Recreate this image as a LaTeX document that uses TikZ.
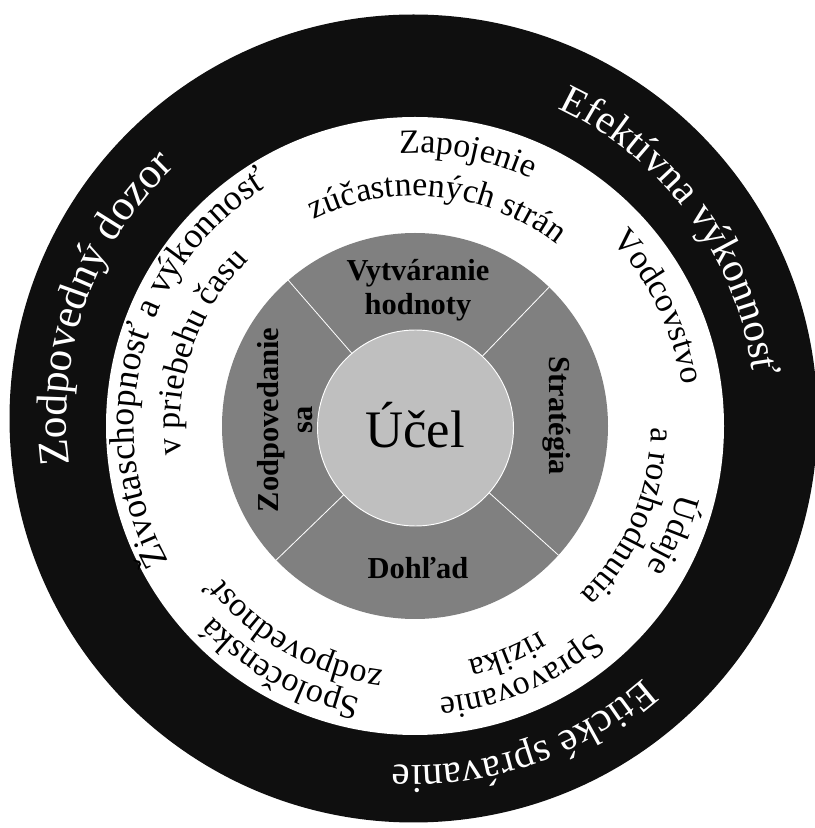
\documentclass[tikz,border=0pt]{standalone}
\usepackage{fontspec}
\setmainfont{Liberation Serif}
\usepackage{xcolor}
\usepackage{tikz}
\usetikzlibrary{decorations.text}
\definecolor{ringblack}{HTML}{0F0F0F}
\definecolor{ringgray}{HTML}{808080}
\definecolor{coregray}{HTML}{BFBFBF}
\newcommand{\outerfont}{\fontsize{35}{35}\selectfont}
\newcommand{\ringfont}{\fontsize{29}{29}\selectfont}
\tikzstyle{divider} = [white, line width=0.7pt]
\tikzstyle{pillar} = [text=black, font=\fontsize{26}{29}\selectfont\bfseries, align=center, inner sep=0pt]
\tikzset{
  ringtext/.style={decorate, decoration={text along path, text align=center, text={|\ringfont|#1}}},
  outertext/.style={decorate, decoration={text along path, text align=center, text color=white, text={|\outerfont|#1}}}
}

\begin{document}
\begin{tikzpicture}[x=0.03cm, y=0.03cm]
		\useasboundingbox (0,0) rectangle (815,828);
		\coordinate (outermid) at (413.5,409.5);
		\coordinate (mid) at (415,402);
		\coordinate (core) at (415.5,400);
		% Rings
		\fill[ringblack] (outermid) circle[radius=404];
		\fill[white] (mid) circle[radius=309];
		\fill[ringgray] (mid) circle[radius=193];
		% Dividers in the gray ring
		\foreach \a in {131,46,-42,-136}
			\draw[divider, shift={(mid)}] (\a:96) -- (\a:193);
		\fill[coregray, draw=white, line width=0.8pt] (core) circle[radius=98];
		% Centre and pillars
		\node[name=purpose, font=\fontsize{45}{45}\selectfont, inner sep=0pt] at (415,403) {Účel};
		\begin{scope}[every node/.style=pillar]
		\node[name=value] at (418,538) {Vytváranie\\hodnoty};
		\node[name=strategy, rotate=-90] at (557,412) {Stratégia};
		\node[name=oversight] at (418,260) {Dohľad};
		\node[name=accountability, rotate=90] at (285,408) {Zodpovedanie\\sa};
		\end{scope}
		% White ring
		\path[ringtext={Zapojenie}, shift={(mid)}] (159:273) arc[start angle=159, end angle=-1, radius=273];
		\path[ringtext={zúčastnených strán}, shift={(mid)}] (164:230) arc[start angle=164, end angle=4, radius=230];
		\path[ringtext={Vodcovstvo}, shift={(mid)}] (106:270) arc[start angle=106, end angle=-54, radius=270];
		\path[ringtext={Údaje}, shift={(mid)}] (57:272) arc[start angle=57, end angle=-103, radius=272];
		\path[ringtext={a rozhodnutia}, shift={(mid)}] (57:236) arc[start angle=57, end angle=-103, radius=236];
		\path[ringtext={Spravovanie}, shift={(mid)}] (13:273) arc[start angle=13, end angle=-147, radius=273];
		\path[ringtext={rizika}, shift={(mid)}] (12:240) arc[start angle=12, end angle=-148, radius=240];
		\path[ringtext={Spoločenská}, shift={(mid)}] (-39:278) arc[start angle=-39, end angle=-199, radius=278];
		\path[ringtext={zodpovednosť}, shift={(mid)}] (-40:246) arc[start angle=-40, end angle=-200, radius=246];
		\path[ringtext={|\fontsize{30.5}{30.5}\selectfont|Životaschopnosť a výkonnosť}, shift={(mid)}] (245:281) arc[start angle=245, end angle=85, radius=281];
		\path[ringtext={v priebehu času}, shift={(mid)}] (241:235) arc[start angle=241, end angle=81, radius=235];
		% Black ring
		\path[outertext={|\fontsize{37}{37}\selectfont|Zodpovedný dozor}, shift={(outermid)}] (240.5:347) arc[start angle=240.5, end angle=80.5, radius=347];
		\path[outertext={Efektívna výkonnosť}, shift={(outermid)}] (116:342) arc[start angle=116, end angle=-44, radius=342];
		\path[outertext={Etické správanie}, shift={(outermid)}] (9:347) arc[start angle=9, end angle=-151, radius=347];
\end{tikzpicture}
\end{document}
